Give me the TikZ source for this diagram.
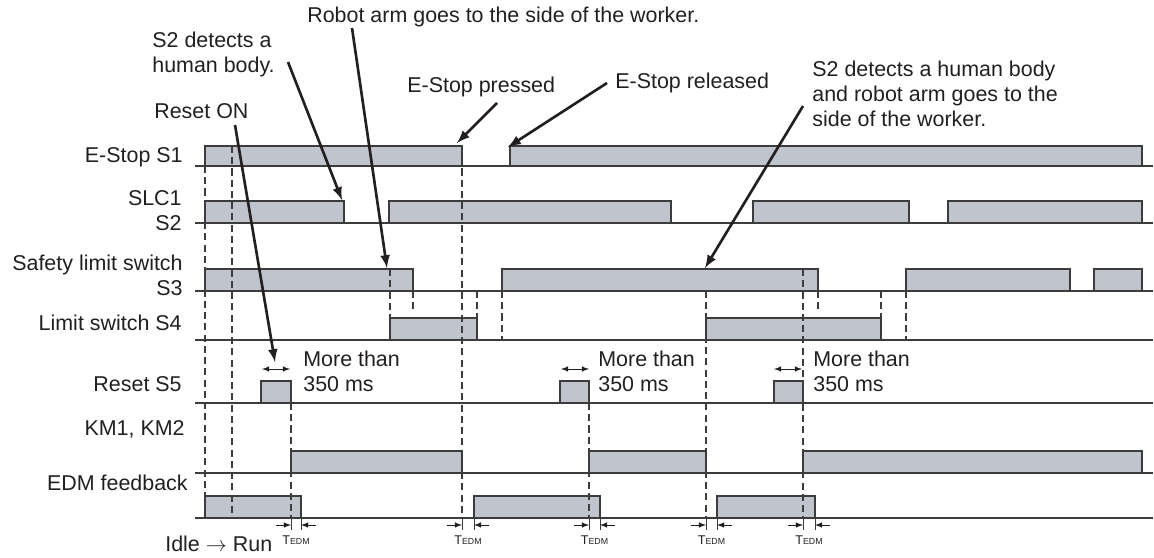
\documentclass[tikz,border=0pt]{standalone}
\usepackage{fontspec}
\setmainfont{Liberation Sans}
\definecolor{sigfill}{RGB}{192,196,204}
\definecolor{ink}{RGB}{35,31,32}
\definecolor{rulec}{RGB}{60,60,60}
\newcommand{\tedm}{T{\fontsize{5}{6}\selectfont EDM}}
\begin{document}
\begin{tikzpicture}[x=0.02cm,y=-0.02cm,>=latex,
    font=\fontsize{12.2}{14.2}\selectfont,text=ink,
    sig/.style={draw=rulec,line width=0.6pt,fill=sigfill},
    lowline/.style={draw=rulec,line width=0.7pt},
    guide/.style={draw=rulec,line width=0.6pt,dash pattern=on 4pt off 2.4pt},
    tick/.style={draw=rulec,line width=0.5pt},
    note/.style={->,draw=ink,line width=1.5pt},
    widtharrow/.style={<->,draw=ink,line width=0.4pt},
    edmarrow/.style={->,draw=ink,line width=0.4pt},
    lbl/.style={anchor=base east,inner sep=0pt,align=right},
    txt/.style={anchor=base west,inner sep=0pt,align=left},
    edmlbl/.style={anchor=base,inner sep=0pt,font=\fontsize{7.2}{8}\selectfont}]
  \useasboundingbox (0,0) rectangle (1154,558);
  % signal names (base = last line)
  \node[lbl] (s1)   at (183,162)   {E-Stop S1};
  \node[lbl] (s2)   at (182,230.5) {SLC1\\S2};
  \node[lbl] (s3)   at (183,295)   {Safety limit switch\\S3};
  \node[lbl] (s4)   at (182,330)   {Limit switch S4};
  \node[lbl] (s5)   at (182,391.5) {Reset S5};
  \node[lbl] (km)   at (185,435.5) {KM1, KM2};
  \node[lbl] (edm)  at (188,490)   {EDM feedback};
  \node[txt] (idle) at (165,551.5) {Idle $\rightarrow$ Run};
  % zero lines
  \draw[lowline] (195,166) -- (1153,166) (195,223) -- (1153,223)
    (195,291) -- (1153,291) (195,340) -- (1153,340) (195,403) -- (1153,403)
    (195,473) -- (1153,473) (195,518) -- (1153,518);
  % E-Stop S1
  \draw[sig] (205,146) rectangle (462,166) (510,146) rectangle (1142,166);
  % SLC1 S2
  \draw[sig] (205,201) rectangle (344,223) (389,201) rectangle (671,223)
    (753,201) rectangle (909,223) (948,201) rectangle (1142,223);
  % S3
  \draw[sig] (205,269) rectangle (413,291) (502,269) rectangle (818,291)
    (906,269) rectangle (1070,291) (1094,269) rectangle (1142,291);
  % S4
  \draw[sig] (390,318) rectangle (477,340) (706,318) rectangle (881,340);
  % S5
  \draw[sig] (261,381) rectangle (291,403) (560,381) rectangle (589,403)
    (774,381) rectangle (803,403);
  % KM1, KM2
  \draw[sig] (291,451) rectangle (462,473) (589,451) rectangle (706,473)
    (803,451) rectangle (1142,473);
  % EDM feedback
  \draw[sig] (205,496) rectangle (301,518) (474,496) rectangle (600,518)
    (717,496) rectangle (815,518);
  % timing guides
  \draw[guide] (205,166) -- (205,496) (232,146) -- (232,518)
    (291,403) -- (291,518) (390,269) -- (390,318) (413,291) -- (413,313)
    (462,146) -- (462,518) (477,291) -- (477,318) (502,291) -- (502,340)
    (589,403) -- (589,518) (706,291) -- (706,518) (803,269) -- (803,518)
    (818,291) -- (818,313) (881,291) -- (881,318) (906,291) -- (906,340);
  % T_EDM delays
  \draw[tick] (291,518) -- (291,530) (301,518) -- (301,530)
    (462,518) -- (462,530) (474,518) -- (474,530)
    (589,518) -- (589,530) (600,518) -- (600,530)
    (706,518) -- (706,530) (717,518) -- (717,530)
    (803,518) -- (803,530) (815,518) -- (815,530);
  \draw[edmarrow] (276,525) -- (291,525);
  \draw[edmarrow] (316,525) -- (301,525);
  \draw[edmarrow] (447,525) -- (462,525);
  \draw[edmarrow] (489,525) -- (474,525);
  \draw[edmarrow] (574,525) -- (589,525);
  \draw[edmarrow] (615,525) -- (600,525);
  \draw[edmarrow] (691,525) -- (706,525);
  \draw[edmarrow] (732,525) -- (717,525);
  \draw[edmarrow] (788,525) -- (803,525);
  \draw[edmarrow] (830,525) -- (815,525);
  \node[edmlbl] (tedma) at (296,544)   {\tedm};
  \node[edmlbl] (tedmb) at (468,544)   {\tedm};
  \node[edmlbl] (tedmc) at (594.5,544) {\tedm};
  \node[edmlbl] (tedmd) at (711.5,544) {\tedm};
  \node[edmlbl] (tedme) at (809,544)   {\tedm};
  % reset pulse widths
  \draw[widtharrow] (262,369) -- (290,369);
  \draw[widtharrow] (561,369) -- (589,369);
  \draw[widtharrow] (774,369) -- (802,369);
  \node[txt] (morea) at (303,391.5) {More than\\350 ms};
  \node[txt] (moreb) at (598,391.5) {More than\\350 ms};
  \node[txt] (morec) at (813,391.5) {More than\\350 ms};
  % notes
  \node[txt] (armtxt)   at (307,22) {Robot arm goes to the side of the worker.};
  \node[txt] (bodytxt)  at (152,72) {S2 detects a\\human body.};
  \node[txt] (resettxt) at (154,118) {Reset ON};
  \node[txt] (presstxt) at (407,92) {E-Stop pressed};
  \node[txt] (reltxt)   at (615,88) {E-Stop released};
  \node[txt] (bothtxt)  at (812,126)
    {S2 detects a human body\\and robot arm goes to the\\side of the worker.};
  \coordinate (armfrom)   at (352,28);
  \coordinate (armto)     at (387,268);
  \coordinate (bodyfrom)  at (288,62);
  \coordinate (bodyto)    at (342,200);
  \coordinate (resetfrom) at (235,125);
  \coordinate (resetto)   at (275,362);
  \coordinate (pressfrom) at (497,103);
  \coordinate (pressto)   at (457,143);
  \coordinate (relfrom)   at (607,83);
  \coordinate (relto)     at (508,147);
  \coordinate (bothfrom)  at (803,106);
  \coordinate (bothto)    at (705,268);
  \draw[note] (armfrom) -- (armto);
  \draw[note] (bodyfrom) -- (bodyto);
  \draw[note] (resetfrom) -- (resetto);
  \draw[note] (pressfrom) -- (pressto);
  \draw[note] (relfrom) -- (relto);
  \draw[note] (bothfrom) -- (bothto);
\end{tikzpicture}
\end{document}
